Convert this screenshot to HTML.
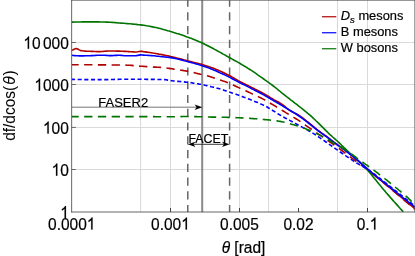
<!DOCTYPE html>
<html><head><meta charset="utf-8"><title>plot</title>
<style>html,body{margin:0;padding:0;background:#fff;}body{width:415px;height:256px;overflow:hidden;-webkit-font-smoothing:antialiased;font-family:"Liberation Sans",sans-serif;}</style>
</head><body>
<svg width="415" height="256" viewBox="0 0 415 256" style="display:block;will-change:transform;font-family:'Liberation Sans',sans-serif">
<rect width="415" height="256" fill="#fff"/>
<style>text{stroke:#000;stroke-width:0.2px;stroke-linejoin:round}.o{stroke:#000;stroke-width:24px;stroke-linejoin:round}.r{stroke-width:0.05px}</style>
<line x1="140.60" y1="0.18" x2="140.60" y2="212.0" stroke="#dadada" stroke-width="1.05"/>
<line x1="170.50" y1="0.18" x2="170.50" y2="212.0" stroke="#dadada" stroke-width="1.05"/>
<line x1="239.50" y1="0.18" x2="239.50" y2="212.0" stroke="#dadada" stroke-width="1.05"/>
<line x1="268.50" y1="0.18" x2="268.50" y2="212.0" stroke="#dadada" stroke-width="1.05"/>
<line x1="337.50" y1="0.18" x2="337.50" y2="212.0" stroke="#dadada" stroke-width="1.05"/>
<line x1="367.50" y1="0.18" x2="367.50" y2="212.0" stroke="#dadada" stroke-width="1.05"/>
<line x1="71.7" y1="169.50" x2="414.9" y2="169.50" stroke="#dadada" stroke-width="1.05"/>
<line x1="71.7" y1="127.40" x2="414.9" y2="127.40" stroke="#dadada" stroke-width="1.05"/>
<line x1="71.7" y1="84.50" x2="414.9" y2="84.50" stroke="#dadada" stroke-width="1.05"/>
<line x1="71.7" y1="42.50" x2="414.9" y2="42.50" stroke="#dadada" stroke-width="1.05"/>
<clipPath id="c"><rect x="71.7" y="0.18" width="343.2" height="211.82"/></clipPath>
<line x1="187.78" y1="0.18" x2="187.78" y2="212.0" stroke="#666666" stroke-width="1.5" stroke-dasharray="8.2,5.56" stroke-dashoffset="1.6"/>
<line x1="202.20" y1="0.18" x2="202.20" y2="212.0" stroke="#8a8a8a" stroke-width="2.0"/>
<line x1="229.61" y1="0.18" x2="229.61" y2="212.0" stroke="#666666" stroke-width="1.5" stroke-dasharray="8.2,5.56" stroke-dashoffset="1.6"/>
<line x1="71.7" y1="107.2" x2="197" y2="107.2" stroke="#666" stroke-width="0.9"/>
<path d="M202.4,107.2 L194.6,104.5 L196.6,107.2 L194.6,109.9 Z" fill="#000"/>
<text x="98.3" y="107.1" font-size="13" fill="#000">FASER2</text>
<line x1="190.8" y1="144.3" x2="226.6" y2="144.3" stroke="#222" stroke-width="0.9"/>
<path d="M187.8,144.3 l7.6,-2.65 l-2,2.65 l2,2.65 Z" fill="#000"/>
<path d="M229.6,144.3 l-7.6,-2.65 l2,2.65 l-2,2.65 Z" fill="#000"/>
<text x="208.4" y="143.1" font-size="12.4" fill="#000" text-anchor="middle">FACET</text>
<g clip-path="url(#c)" fill="none" stroke-linejoin="round">
<path d="M71.7,50.2 L73.2,49.7 L74.7,49.1 L76.2,48.5 L77.7,49.0 L79.2,49.9 L80.7,50.6 L82.2,50.8 L83.7,51.0 L85.2,51.1 L86.7,51.2 L88.2,51.2 L89.7,51.3 L91.2,51.4 L92.7,51.4 L94.2,51.5 L95.7,51.5 L97.2,51.6 L98.7,51.6 L100.2,51.6 L101.7,51.5 L103.2,51.4 L104.7,51.2 L106.2,51.1 L107.7,51.0 L109.2,51.0 L110.7,51.0 L112.2,51.0 L113.7,51.0 L115.2,51.0 L116.7,51.1 L118.2,51.1 L119.7,51.1 L121.2,51.2 L122.7,51.3 L124.2,51.4 L125.7,51.4 L127.2,51.5 L128.7,51.6 L130.2,51.7 L131.7,51.8 L133.2,51.9 L134.7,52.0 L136.2,52.0 L137.7,51.8 L139.2,51.5 L140.7,51.3 L142.2,51.4 L143.7,51.7 L145.2,51.9 L146.7,52.1 L148.2,52.3 L149.7,52.5 L151.2,52.7 L152.7,53.0 L154.2,53.2 L155.7,53.5 L157.2,53.8 L158.7,54.1 L160.2,54.3 L161.7,54.6 L163.2,54.9 L164.7,55.2 L166.2,55.5 L167.7,55.8 L169.2,56.1 L170.7,56.5 L172.2,56.8 L173.7,57.2 L175.2,57.6 L176.7,58.0 L178.2,58.3 L179.7,58.7 L181.2,59.1 L182.7,59.5 L184.2,59.9 L185.7,60.3 L187.2,60.7 L188.7,61.1 L190.2,61.4 L191.7,61.8 L193.2,62.2 L194.7,62.5 L196.2,62.9 L197.7,63.3 L199.2,63.7 L200.7,64.1 L202.2,64.5 L203.7,65.0 L205.2,65.4 L206.7,65.9 L208.2,66.4 L209.7,66.9 L211.2,67.4 L212.7,68.0 L214.2,68.6 L215.7,69.2 L217.2,69.8 L218.7,70.5 L220.2,71.1 L221.7,71.8 L223.2,72.5 L224.7,73.2 L226.2,74.0 L227.7,74.7 L229.2,75.5 L230.7,76.3 L232.2,77.2 L233.7,78.0 L235.2,78.9 L236.7,79.8 L238.2,80.7 L239.7,81.5 L241.2,82.2 L242.7,83.0 L244.2,83.7 L245.7,84.5 L247.2,85.2 L248.7,85.9 L250.2,86.7 L251.7,87.5 L253.2,88.2 L254.7,89.0 L256.2,89.7 L257.7,90.5 L259.2,91.2 L260.7,92.0 L262.2,92.8 L263.7,93.6 L265.2,94.5 L266.7,95.4 L268.2,96.3 L269.7,97.2 L271.2,98.1 L272.7,99.0 L274.2,99.9 L275.7,100.7 L277.2,101.5 L278.7,102.3 L280.2,103.2 L281.7,104.1 L283.2,105.1 L284.7,106.4 L286.2,107.7 L287.7,109.0 L289.2,110.1 L290.7,111.0 L292.2,111.8 L293.7,112.5 L295.2,113.3 L296.7,114.0 L298.2,114.9 L299.7,115.8 L301.2,116.9 L302.7,118.0 L304.2,119.1 L305.7,120.3 L307.2,121.5 L308.7,122.7 L310.2,123.9 L311.7,125.1 L313.2,126.4 L314.7,127.6 L316.2,128.9 L317.7,130.1 L319.2,131.2 L320.7,132.3 L322.2,133.4 L323.7,134.4 L325.2,135.5 L326.7,136.5 L328.2,137.7 L329.7,138.8 L331.2,140.0 L332.7,141.2 L334.2,142.4 L335.7,143.5 L337.2,144.5 L338.7,145.6 L340.2,146.7 L341.7,147.8 L343.2,148.8 L344.7,149.9 L346.2,151.1 L347.7,152.2 L349.2,153.4 L350.7,154.6 L352.2,155.8 L353.7,157.0 L355.2,158.3 L356.7,159.5 L358.2,160.8 L359.7,162.1 L361.2,163.4 L362.7,164.8 L364.2,166.2 L365.7,167.6 L367.2,169.0 L368.7,170.3 L370.2,171.6 L371.7,172.9 L373.2,174.2 L374.7,175.4 L376.2,176.6 L377.7,177.9 L379.2,179.1 L380.7,180.3 L382.2,181.5 L383.7,182.7 L385.2,184.0 L386.7,185.2 L388.2,186.4 L389.7,187.6 L391.2,188.8 L392.7,190.1 L394.2,191.3 L395.7,192.6 L397.2,193.8 L398.7,195.1 L400.2,196.3 L401.7,197.6 L403.2,198.9 L404.7,200.1 L406.2,201.4 L407.7,202.6 L409.2,203.9 L410.7,205.2 L412.2,206.4 L413.7,207.7 L415.0,208.8" stroke="#b00000" stroke-width="1.6"/>
<path d="M71.7,64.7 L73.2,64.7 L74.7,64.7 L76.2,64.7 L77.7,64.7 L79.2,64.7 L80.7,64.7 L82.2,64.7 L83.7,64.8 L85.2,64.8 L86.7,64.8 L88.2,64.8 L89.7,64.8 L91.2,64.8 L92.7,64.8 L94.2,64.8 L95.7,64.8 L97.2,64.8 L98.7,64.9 L100.2,64.9 L101.7,64.9 L103.2,64.9 L104.7,64.9 L106.2,64.9 L107.7,64.9 L109.2,64.9 L110.7,65.0 L112.2,65.0 L113.7,65.0 L115.2,65.0 L116.7,65.0 L118.2,65.0 L119.7,65.0 L121.2,65.1 L122.7,65.1 L124.2,65.1 L125.7,65.1 L127.2,65.2 L128.7,65.2 L130.2,65.3 L131.7,65.4 L133.2,65.6 L134.7,65.7 L136.2,65.9 L137.7,66.0 L139.2,66.1 L140.7,66.2 L142.2,66.3 L143.7,66.4 L145.2,66.5 L146.7,66.6 L148.2,66.7 L149.7,66.8 L151.2,66.9 L152.7,67.0 L154.2,67.1 L155.7,67.1 L157.2,67.2 L158.7,67.3 L160.2,67.4 L161.7,67.6 L163.2,67.7 L164.7,67.9 L166.2,68.1 L167.7,68.2 L169.2,68.4 L170.7,68.6 L172.2,68.8 L173.7,69.1 L175.2,69.3 L176.7,69.5 L178.2,69.8 L179.7,70.0 L181.2,70.2 L182.7,70.4 L184.2,70.7 L185.7,70.9 L187.2,71.2 L188.7,71.5 L190.2,71.8 L191.7,72.1 L193.2,72.5 L194.7,72.8 L196.2,73.2 L197.7,73.6 L199.2,73.9 L200.7,74.3 L202.2,74.6 L203.7,74.9 L205.2,75.3 L206.7,75.6 L208.2,76.0 L209.7,76.4 L211.2,76.9 L212.7,77.4 L214.2,77.9 L215.7,78.4 L217.2,79.0 L218.7,79.5 L220.2,80.0 L221.7,80.5 L223.2,81.1 L224.7,81.6 L226.2,82.1 L227.7,82.7 L229.2,83.3 L230.7,83.9 L232.2,84.6 L233.7,85.3 L235.2,86.0 L236.7,86.7 L238.2,87.4 L239.7,88.1 L241.2,88.8 L242.7,89.5 L244.2,90.2 L245.7,90.8 L247.2,91.5 L248.7,92.2 L250.2,92.9 L251.7,93.6 L253.2,94.3 L254.7,95.0 L256.2,95.7 L257.7,96.4 L259.2,97.1 L260.7,97.8 L262.2,98.6 L263.7,99.4 L265.2,100.2 L266.7,101.0 L268.2,101.9 L269.7,102.8 L271.2,103.7 L272.7,104.6 L274.2,105.5 L275.7,106.4 L277.2,107.3 L278.7,108.2 L280.2,109.2 L281.7,110.1 L283.2,111.0 L284.7,111.9 L286.2,112.9 L287.7,113.8 L289.2,114.6 L290.7,115.5 L292.2,116.4 L293.7,117.4 L295.2,118.3 L296.7,119.2 L298.2,120.2 L299.7,121.2 L301.2,122.2 L302.7,123.2 L304.2,124.2 L305.7,125.3 L307.2,126.3 L308.7,127.4 L310.2,128.4 L311.7,129.5 L313.2,130.5 L314.7,131.5 L316.2,132.5 L317.7,133.6 L319.2,134.6 L320.7,135.6 L322.2,136.7 L323.7,137.7 L325.2,138.7 L326.7,139.8 L328.2,140.8 L329.7,141.9 L331.2,142.9 L332.7,143.9 L334.2,145.0 L335.7,146.1 L337.2,147.1 L338.7,148.2 L340.2,149.4 L341.7,150.5 L343.2,151.6 L344.7,152.7 L346.2,153.9 L347.7,155.0 L349.2,156.2 L350.7,157.3 L352.2,158.4 L353.7,159.5 L355.2,160.6 L356.7,161.7 L358.2,162.8 L359.7,163.9 L361.2,165.0 L362.7,166.1 L364.2,167.2 L365.7,168.3 L367.2,169.5 L368.7,170.6 L370.2,171.8 L371.7,173.0 L373.2,174.2 L374.7,175.4 L376.2,176.7 L377.7,177.9 L379.2,179.1 L380.7,180.4 L382.2,181.7 L383.7,182.9 L385.2,184.2 L386.7,185.4 L388.2,186.7 L389.7,188.0 L391.2,189.2 L392.7,190.5 L394.2,191.7 L395.7,193.0 L397.2,194.2 L398.7,195.5 L400.2,196.8 L401.7,198.0 L403.2,199.3 L404.7,200.6 L406.2,201.8 L407.7,203.1 L409.2,204.4 L410.7,205.6 L412.2,206.9 L413.7,208.2 L415.0,209.3" stroke="#b00000" stroke-width="1.6" stroke-dasharray="8.3,5.45" stroke-dashoffset="1.3"/>
<path d="M71.7,22.1 L73.2,22.1 L74.7,22.0 L76.2,22.0 L77.7,22.0 L79.2,22.0 L80.7,22.0 L82.2,21.9 L83.7,21.9 L85.2,21.9 L86.7,21.9 L88.2,21.9 L89.7,21.9 L91.2,21.9 L92.7,21.9 L94.2,21.9 L95.7,21.9 L97.2,21.9 L98.7,21.9 L100.2,22.0 L101.7,22.0 L103.2,22.0 L104.7,22.0 L106.2,22.1 L107.7,22.1 L109.2,22.2 L110.7,22.3 L112.2,22.4 L113.7,22.5 L115.2,22.6 L116.7,22.7 L118.2,22.9 L119.7,23.0 L121.2,23.1 L122.7,23.2 L124.2,23.3 L125.7,23.5 L127.2,23.6 L128.7,23.7 L130.2,23.8 L131.7,24.0 L133.2,24.1 L134.7,24.3 L136.2,24.4 L137.7,24.6 L139.2,24.7 L140.7,24.9 L142.2,25.1 L143.7,25.3 L145.2,25.5 L146.7,25.8 L148.2,26.0 L149.7,26.3 L151.2,26.6 L152.7,26.9 L154.2,27.2 L155.7,27.5 L157.2,27.8 L158.7,28.2 L160.2,28.6 L161.7,29.0 L163.2,29.4 L164.7,29.8 L166.2,30.2 L167.7,30.7 L169.2,31.1 L170.7,31.6 L172.2,32.0 L173.7,32.5 L175.2,32.9 L176.7,33.4 L178.2,33.8 L179.7,34.3 L181.2,34.8 L182.7,35.3 L184.2,35.8 L185.7,36.4 L187.2,37.0 L188.7,37.5 L190.2,38.1 L191.7,38.6 L193.2,39.2 L194.7,39.8 L196.2,40.4 L197.7,41.0 L199.2,41.7 L200.7,42.3 L202.2,43.0 L203.7,43.7 L205.2,44.5 L206.7,45.2 L208.2,46.0 L209.7,46.8 L211.2,47.5 L212.7,48.3 L214.2,49.1 L215.7,49.9 L217.2,50.8 L218.7,51.6 L220.2,52.4 L221.7,53.2 L223.2,54.1 L224.7,54.9 L226.2,55.8 L227.7,56.6 L229.2,57.5 L230.7,58.3 L232.2,59.1 L233.7,60.0 L235.2,60.8 L236.7,61.6 L238.2,62.4 L239.7,63.3 L241.2,64.2 L242.7,65.1 L244.2,66.0 L245.7,66.9 L247.2,67.8 L248.7,68.8 L250.2,69.7 L251.7,70.7 L253.2,71.7 L254.7,72.7 L256.2,73.7 L257.7,74.8 L259.2,75.8 L260.7,76.8 L262.2,77.9 L263.7,79.0 L265.2,80.1 L266.7,81.1 L268.2,82.2 L269.7,83.3 L271.2,84.4 L272.7,85.5 L274.2,86.6 L275.7,87.8 L277.2,89.0 L278.7,90.3 L280.2,91.5 L281.7,92.8 L283.2,94.0 L284.7,95.1 L286.2,96.3 L287.7,97.5 L289.2,98.6 L290.7,99.8 L292.2,100.9 L293.7,102.1 L295.2,103.3 L296.7,104.4 L298.2,105.6 L299.7,106.8 L301.2,108.0 L302.7,109.2 L304.2,110.4 L305.7,111.6 L307.2,112.8 L308.7,114.1 L310.2,115.4 L311.7,116.7 L313.2,118.1 L314.7,119.5 L316.2,121.0 L317.7,122.4 L319.2,123.9 L320.7,125.4 L322.2,126.9 L323.7,128.4 L325.2,129.9 L326.7,131.4 L328.2,132.9 L329.7,134.3 L331.2,135.6 L332.7,137.0 L334.2,138.3 L335.7,139.7 L337.2,141.0 L338.7,142.4 L340.2,143.8 L341.7,145.3 L343.2,146.7 L344.7,148.2 L346.2,149.6 L347.7,151.0 L349.2,152.5 L350.7,153.8 L352.2,155.2 L353.7,156.5 L355.2,157.9 L356.7,159.2 L358.2,160.6 L359.7,162.0 L361.2,163.5 L362.7,165.0 L364.2,166.5 L365.7,168.2 L367.2,169.8 L368.7,171.5 L370.2,173.3 L371.7,175.0 L373.2,176.9 L374.7,178.7 L376.2,180.5 L377.7,182.4 L379.2,184.3 L380.7,186.1 L382.2,187.9 L383.7,189.7 L385.2,191.4 L386.7,193.2 L388.2,194.9 L389.7,196.6 L391.2,198.4 L392.7,200.1 L394.2,201.8 L395.7,203.4 L397.2,205.1 L398.7,206.8 L400.2,208.5 L401.7,210.1 L403.2,211.7 L403.3,211.8" stroke="#007400" stroke-width="1.6"/>
<path d="M71.7,55.3 L73.2,55.5 L74.7,55.6 L76.2,55.7 L77.7,55.8 L79.2,55.9 L80.7,55.9 L82.2,55.9 L83.7,55.9 L85.2,55.8 L86.7,55.8 L88.2,55.7 L89.7,55.7 L91.2,55.6 L92.7,55.6 L94.2,55.5 L95.7,55.4 L97.2,55.3 L98.7,55.3 L100.2,55.2 L101.7,55.2 L103.2,55.2 L104.7,55.3 L106.2,55.4 L107.7,55.5 L109.2,55.6 L110.7,55.6 L112.2,55.6 L113.7,55.5 L115.2,55.4 L116.7,55.4 L118.2,55.3 L119.7,55.3 L121.2,55.4 L122.7,55.5 L124.2,55.7 L125.7,55.8 L127.2,55.8 L128.7,55.8 L130.2,55.8 L131.7,55.7 L133.2,55.7 L134.7,55.7 L136.2,55.6 L137.7,55.4 L139.2,55.1 L140.7,54.9 L142.2,55.0 L143.7,55.1 L145.2,55.2 L146.7,55.3 L148.2,55.4 L149.7,55.5 L151.2,55.6 L152.7,55.7 L154.2,55.8 L155.7,56.0 L157.2,56.2 L158.7,56.3 L160.2,56.5 L161.7,56.7 L163.2,56.8 L164.7,57.0 L166.2,57.1 L167.7,57.3 L169.2,57.4 L170.7,57.6 L172.2,57.9 L173.7,58.2 L175.2,58.5 L176.7,58.8 L178.2,59.1 L179.7,59.5 L181.2,59.9 L182.7,60.2 L184.2,60.7 L185.7,61.1 L187.2,61.5 L188.7,61.9 L190.2,62.3 L191.7,62.7 L193.2,63.1 L194.7,63.5 L196.2,63.9 L197.7,64.3 L199.2,64.8 L200.7,65.2 L202.2,65.7 L203.7,66.2 L205.2,66.7 L206.7,67.2 L208.2,67.8 L209.7,68.3 L211.2,68.9 L212.7,69.5 L214.2,70.2 L215.7,70.8 L217.2,71.5 L218.7,72.2 L220.2,72.9 L221.7,73.5 L223.2,74.2 L224.7,74.9 L226.2,75.6 L227.7,76.4 L229.2,77.1 L230.7,77.9 L232.2,78.7 L233.7,79.5 L235.2,80.3 L236.7,81.1 L238.2,81.9 L239.7,82.7 L241.2,83.4 L242.7,84.2 L244.2,84.9 L245.7,85.6 L247.2,86.4 L248.7,87.1 L250.2,87.9 L251.7,88.7 L253.2,89.4 L254.7,90.2 L256.2,91.0 L257.7,91.7 L259.2,92.5 L260.7,93.3 L262.2,94.1 L263.7,94.9 L265.2,95.8 L266.7,96.6 L268.2,97.5 L269.7,98.3 L271.2,99.2 L272.7,100.1 L274.2,101.0 L275.7,101.9 L277.2,102.7 L278.7,103.6 L280.2,104.5 L281.7,105.4 L283.2,106.3 L284.7,107.2 L286.2,108.1 L287.7,109.0 L289.2,109.9 L290.7,110.8 L292.2,111.7 L293.7,112.6 L295.2,113.5 L296.7,114.5 L298.2,115.5 L299.7,116.5 L301.2,117.6 L302.7,118.7 L304.2,119.8 L305.7,120.9 L307.2,122.1 L308.7,123.3 L310.2,124.5 L311.7,125.6 L313.2,126.8 L314.7,128.1 L316.2,129.3 L317.7,130.5 L319.2,131.6 L320.7,132.7 L322.2,133.8 L323.7,134.8 L325.2,135.9 L326.7,136.9 L328.2,138.0 L329.7,139.2 L331.2,140.4 L332.7,141.5 L334.2,142.6 L335.7,143.7 L337.2,144.8 L338.7,145.9 L340.2,146.9 L341.7,148.0 L343.2,149.1 L344.7,150.2 L346.2,151.3 L347.7,152.4 L349.2,153.6 L350.7,154.8 L352.2,156.0 L353.7,157.2 L355.2,158.4 L356.7,159.7 L358.2,160.9 L359.7,162.2 L361.2,163.5 L362.7,164.8 L364.2,166.1 L365.7,167.4 L367.2,168.7 L368.7,170.0 L370.2,171.2 L371.7,172.5 L373.2,173.7 L374.7,174.9 L376.2,176.2 L377.7,177.4 L379.2,178.6 L380.7,179.8 L382.2,181.0 L383.7,182.2 L385.2,183.4 L386.7,184.6 L388.2,185.8 L389.7,187.0 L391.2,188.2 L392.7,189.4 L394.2,190.6 L395.7,191.8 L397.2,193.0 L398.7,194.2 L400.2,195.4 L401.7,196.6 L403.2,197.8 L404.7,199.0 L406.2,200.2 L407.7,201.4 L409.2,202.6 L410.7,203.8 L412.2,205.0 L413.7,206.2 L415.0,207.2" stroke="#0000ff" stroke-width="1.6"/>
<path d="M71.7,79.4 L73.2,79.4 L74.7,79.5 L76.2,79.5 L77.7,79.5 L79.2,79.5 L80.7,79.5 L82.2,79.5 L83.7,79.6 L85.2,79.6 L86.7,79.6 L88.2,79.6 L89.7,79.6 L91.2,79.6 L92.7,79.6 L94.2,79.6 L95.7,79.6 L97.2,79.6 L98.7,79.6 L100.2,79.6 L101.7,79.6 L103.2,79.6 L104.7,79.6 L106.2,79.6 L107.7,79.6 L109.2,79.6 L110.7,79.5 L112.2,79.5 L113.7,79.5 L115.2,79.4 L116.7,79.4 L118.2,79.4 L119.7,79.3 L121.2,79.3 L122.7,79.3 L124.2,79.2 L125.7,79.2 L127.2,79.2 L128.7,79.2 L130.2,79.2 L131.7,79.2 L133.2,79.2 L134.7,79.2 L136.2,79.2 L137.7,79.3 L139.2,79.3 L140.7,79.3 L142.2,79.3 L143.7,79.3 L145.2,79.3 L146.7,79.4 L148.2,79.4 L149.7,79.4 L151.2,79.4 L152.7,79.4 L154.2,79.4 L155.7,79.5 L157.2,79.5 L158.7,79.5 L160.2,79.5 L161.7,79.5 L163.2,79.6 L164.7,79.6 L166.2,79.8 L167.7,80.1 L169.2,80.4 L170.7,80.6 L172.2,80.8 L173.7,81.0 L175.2,81.1 L176.7,81.3 L178.2,81.4 L179.7,81.5 L181.2,81.6 L182.7,81.8 L184.2,81.9 L185.7,82.1 L187.2,82.2 L188.7,82.4 L190.2,82.6 L191.7,82.8 L193.2,83.1 L194.7,83.3 L196.2,83.5 L197.7,83.8 L199.2,84.1 L200.7,84.3 L202.2,84.6 L203.7,84.9 L205.2,85.3 L206.7,85.6 L208.2,86.0 L209.7,86.3 L211.2,86.7 L212.7,87.0 L214.2,87.4 L215.7,87.8 L217.2,88.2 L218.7,88.6 L220.2,89.0 L221.7,89.5 L223.2,89.9 L224.7,90.4 L226.2,90.9 L227.7,91.4 L229.2,91.9 L230.7,92.4 L232.2,93.0 L233.7,93.5 L235.2,94.0 L236.7,94.6 L238.2,95.1 L239.7,95.7 L241.2,96.2 L242.7,96.7 L244.2,97.3 L245.7,97.8 L247.2,98.4 L248.7,99.0 L250.2,99.6 L251.7,100.2 L253.2,100.8 L254.7,101.4 L256.2,102.0 L257.7,102.6 L259.2,103.3 L260.7,103.9 L262.2,104.6 L263.7,105.3 L265.2,106.0 L266.7,106.8 L268.2,107.7 L269.7,108.6 L271.2,109.5 L272.7,110.5 L274.2,111.4 L275.7,112.4 L277.2,113.4 L278.7,114.3 L280.2,115.1 L281.7,116.0 L283.2,116.8 L284.7,117.7 L286.2,118.5 L287.7,119.3 L289.2,120.1 L290.7,120.9 L292.2,121.7 L293.7,122.6 L295.2,123.4 L296.7,124.2 L298.2,125.0 L299.7,125.8 L301.2,126.6 L302.7,127.4 L304.2,128.2 L305.7,129.0 L307.2,129.9 L308.7,130.7 L310.2,131.6 L311.7,132.5 L313.2,133.4 L314.7,134.4 L316.2,135.3 L317.7,136.3 L319.2,137.3 L320.7,138.3 L322.2,139.4 L323.7,140.4 L325.2,141.5 L326.7,142.5 L328.2,143.6 L329.7,144.7 L331.2,145.7 L332.7,146.8 L334.2,147.8 L335.7,148.9 L337.2,149.9 L338.7,150.9 L340.2,152.0 L341.7,153.0 L343.2,154.0 L344.7,155.0 L346.2,156.1 L347.7,157.1 L349.2,158.1 L350.7,159.1 L352.2,160.2 L353.7,161.2 L355.2,162.1 L356.7,163.0 L358.2,163.9 L359.7,164.8 L361.2,165.6 L362.7,166.4 L364.2,167.3 L365.7,168.1 L367.2,169.1 L368.7,170.0 L370.2,171.1 L371.7,172.1 L373.2,173.3 L374.7,174.4 L376.2,175.6 L377.7,176.7 L379.2,177.9 L380.7,179.0 L382.2,180.2 L383.7,181.4 L385.2,182.6 L386.7,183.7 L388.2,184.9 L389.7,186.1 L391.2,187.3 L392.7,188.5 L394.2,189.7 L395.7,190.9 L397.2,192.1 L398.7,193.2 L400.2,194.4 L401.7,195.6 L403.2,196.8 L404.7,198.0 L406.2,199.2 L407.7,200.3 L409.2,201.5 L410.7,202.7 L412.2,203.9 L413.7,205.1 L415.0,206.1" stroke="#0000ff" stroke-width="1.6" stroke-dasharray="4.1,2.55" stroke-dashoffset="0.7"/>
<path d="M71.7,116.6 L73.2,116.6 L74.7,116.6 L76.2,116.6 L77.7,116.6 L79.2,116.6 L80.7,116.6 L82.2,116.6 L83.7,116.6 L85.2,116.6 L86.7,116.6 L88.2,116.6 L89.7,116.6 L91.2,116.6 L92.7,116.6 L94.2,116.6 L95.7,116.6 L97.2,116.6 L98.7,116.6 L100.2,116.6 L101.7,116.6 L103.2,116.6 L104.7,116.6 L106.2,116.6 L107.7,116.6 L109.2,116.6 L110.7,116.6 L112.2,116.6 L113.7,116.6 L115.2,116.6 L116.7,116.6 L118.2,116.6 L119.7,116.6 L121.2,116.6 L122.7,116.6 L124.2,116.6 L125.7,116.6 L127.2,116.6 L128.7,116.6 L130.2,116.6 L131.7,116.6 L133.2,116.6 L134.7,116.6 L136.2,116.6 L137.7,116.6 L139.2,116.6 L140.7,116.6 L142.2,116.6 L143.7,116.6 L145.2,116.6 L146.7,116.6 L148.2,116.6 L149.7,116.6 L151.2,116.6 L152.7,116.6 L154.2,116.6 L155.7,116.7 L157.2,116.7 L158.7,116.7 L160.2,116.7 L161.7,116.7 L163.2,116.7 L164.7,116.7 L166.2,116.7 L167.7,116.7 L169.2,116.7 L170.7,116.7 L172.2,116.7 L173.7,116.7 L175.2,116.7 L176.7,116.6 L178.2,116.6 L179.7,116.6 L181.2,116.6 L182.7,116.5 L184.2,116.5 L185.7,116.5 L187.2,116.5 L188.7,116.5 L190.2,116.5 L191.7,116.5 L193.2,116.6 L194.7,116.6 L196.2,116.6 L197.7,116.7 L199.2,116.7 L200.7,116.8 L202.2,116.8 L203.7,116.9 L205.2,116.9 L206.7,117.0 L208.2,117.0 L209.7,117.0 L211.2,117.1 L212.7,117.1 L214.2,117.1 L215.7,117.1 L217.2,117.2 L218.7,117.2 L220.2,117.2 L221.7,117.2 L223.2,117.3 L224.7,117.3 L226.2,117.3 L227.7,117.4 L229.2,117.4 L230.7,117.4 L232.2,117.5 L233.7,117.5 L235.2,117.6 L236.7,117.7 L238.2,117.7 L239.7,117.8 L241.2,117.9 L242.7,118.0 L244.2,118.1 L245.7,118.1 L247.2,118.2 L248.7,118.3 L250.2,118.4 L251.7,118.5 L253.2,118.6 L254.7,118.7 L256.2,118.8 L257.7,118.9 L259.2,119.1 L260.7,119.2 L262.2,119.3 L263.7,119.5 L265.2,119.6 L266.7,119.8 L268.2,119.9 L269.7,120.0 L271.2,120.2 L272.7,120.4 L274.2,120.5 L275.7,120.7 L277.2,120.9 L278.7,121.2 L280.2,121.4 L281.7,121.7 L283.2,122.0 L284.7,122.3 L286.2,122.7 L287.7,123.1 L289.2,123.5 L290.7,124.0 L292.2,124.4 L293.7,124.8 L295.2,125.3 L296.7,125.7 L298.2,126.2 L299.7,126.7 L301.2,127.2 L302.7,127.7 L304.2,128.2 L305.7,128.8 L307.2,129.4 L308.7,130.0 L310.2,130.6 L311.7,131.3 L313.2,131.9 L314.7,132.6 L316.2,133.4 L317.7,134.1 L319.2,134.9 L320.7,135.6 L322.2,136.4 L323.7,137.2 L325.2,138.1 L326.7,139.0 L328.2,139.8 L329.7,140.7 L331.2,141.6 L332.7,142.5 L334.2,143.3 L335.7,144.2 L337.2,145.1 L338.7,146.0 L340.2,146.8 L341.7,147.7 L343.2,148.6 L344.7,149.5 L346.2,150.5 L347.7,151.4 L349.2,152.4 L350.7,153.5 L352.2,154.5 L353.7,155.6 L355.2,156.7 L356.7,157.9 L358.2,159.0 L359.7,160.1 L361.2,161.2 L362.7,162.2 L364.2,163.3 L365.7,164.4 L367.2,165.4 L368.7,166.5 L370.2,167.5 L371.7,168.6 L373.2,169.7 L374.7,170.8 L376.2,172.0 L377.7,173.1 L379.2,174.3 L380.7,175.4 L382.2,176.6 L383.7,177.8 L385.2,179.0 L386.7,180.2 L388.2,181.4 L389.7,182.6 L391.2,183.8 L392.7,185.0 L394.2,186.2 L395.7,187.5 L397.2,188.7 L398.7,190.0 L400.2,191.2 L401.7,192.4 L403.2,193.7 L404.7,195.0 L406.2,196.3 L407.7,197.7 L409.2,199.1 L410.7,200.6 L412.2,202.1 L413.7,203.6 L415.0,205.0" stroke="#007400" stroke-width="1.6" stroke-dasharray="8.3,5.45" stroke-dashoffset="1.3"/>
</g>
<g stroke="#404040" stroke-width="0.8" fill="none">
<line x1="71.65" y1="0" x2="71.65" y2="212.4"/>
<line x1="71.25" y1="212.0" x2="415" y2="212.0"/>
<line x1="71.25" y1="0.2" x2="415" y2="0.2"/>
<line x1="414.9" y1="0" x2="414.9" y2="212.4"/>
</g>
<g stroke-width="0.9" fill="none">
<line x1="170.5" y1="212.0" x2="170.5" y2="208.0" stroke="#333"/>
<line x1="239.5" y1="212.0" x2="239.5" y2="208.0" stroke="#333"/>
<line x1="298.5" y1="212.0" x2="298.5" y2="208.0" stroke="#333"/>
<line x1="367.5" y1="212.0" x2="367.5" y2="208.0" stroke="#333"/>
<line x1="71.65" y1="169.5" x2="75.9" y2="169.5" stroke="#5a5a5a"/>
<line x1="71.65" y1="127.4" x2="75.9" y2="127.4" stroke="#5a5a5a"/>
<line x1="71.65" y1="84.5" x2="75.9" y2="84.5" stroke="#5a5a5a"/>
<line x1="71.65" y1="42.5" x2="75.9" y2="42.5" stroke="#5a5a5a"/>
</g>
<g transform="translate(71.70,229.60) scale(0.917,1)" fill="#000"><path class="o" transform="translate(16.44,0) scale(0.00825,-0.00825)" d="M763 0H583V1147Q518 1085 412.5 1023Q307 961 223 930V1104Q374 1175 487 1276Q600 1377 647 1472H763Z"/><text font-size="16.9" x="-25.84 -16.44 -11.75 -2.35 7.05" y="0">0.000</text></g>
<g transform="translate(170.40,229.60) scale(0.917,1)" fill="#000"><path class="o" transform="translate(11.75,0) scale(0.00825,-0.00825)" d="M763 0H583V1147Q518 1085 412.5 1023Q307 961 223 930V1104Q374 1175 487 1276Q600 1377 647 1472H763Z"/><text font-size="16.9" x="-21.14 -11.75 -7.05 2.35" y="0">0.00</text></g>
<g transform="translate(239.40,229.60) scale(0.917,1)" fill="#000"><text font-size="16.9" x="-21.14 -11.75 -7.05 2.35 11.75" y="0">0.005</text></g>
<g transform="translate(298.50,229.60) scale(0.917,1)" fill="#000"><text font-size="16.9" x="-16.44 -7.05 -2.35 7.05" y="0">0.02</text></g>
<g transform="translate(367.50,229.60) scale(0.917,1)" fill="#000"><path class="o" transform="translate(2.35,0) scale(0.00825,-0.00825)" d="M763 0H583V1147Q518 1085 412.5 1023Q307 961 223 930V1104Q374 1175 487 1276Q600 1377 647 1472H763Z"/><text font-size="16.9" x="-11.75 -2.35" y="0">0.</text></g>
<g transform="translate(68.80,218.20) scale(0.917,1)" fill="#000"><path class="o" transform="translate(-9.40,0) scale(0.00825,-0.00825)" d="M763 0H583V1147Q518 1085 412.5 1023Q307 961 223 930V1104Q374 1175 487 1276Q600 1377 647 1472H763Z"/></g>
<g transform="translate(68.80,175.70) scale(0.917,1)" fill="#000"><path class="o" transform="translate(-18.79,0) scale(0.00825,-0.00825)" d="M763 0H583V1147Q518 1085 412.5 1023Q307 961 223 930V1104Q374 1175 487 1276Q600 1377 647 1472H763Z"/><text font-size="16.9" x="-9.40" y="0">0</text></g>
<g transform="translate(68.80,133.60) scale(0.917,1)" fill="#000"><path class="o" transform="translate(-28.19,0) scale(0.00825,-0.00825)" d="M763 0H583V1147Q518 1085 412.5 1023Q307 961 223 930V1104Q374 1175 487 1276Q600 1377 647 1472H763Z"/><text font-size="16.9" x="-18.79 -9.40" y="0">00</text></g>
<g transform="translate(68.80,90.70) scale(0.917,1)" fill="#000"><path class="o" transform="translate(-37.59,0) scale(0.00825,-0.00825)" d="M763 0H583V1147Q518 1085 412.5 1023Q307 961 223 930V1104Q374 1175 487 1276Q600 1377 647 1472H763Z"/><text font-size="16.9" x="-28.19 -18.79 -9.40" y="0">000</text></g>
<g transform="translate(68.80,48.70) scale(0.917,1)" fill="#000"><path class="o" transform="translate(-49.60,0) scale(0.00825,-0.00825)" d="M763 0H583V1147Q518 1085 412.5 1023Q307 961 223 930V1104Q374 1175 487 1276Q600 1377 647 1472H763Z"/><text font-size="16.9" x="-40.21 -28.19 -18.79 -9.40" y="0">0000</text></g>
<text transform="translate(243.50,252.60) scale(0.917,1)" font-size="16.9" fill="#000" text-anchor="middle"><tspan font-style="italic">θ</tspan> [rad]</text>
<text class="r" transform="translate(15.20,105.60) rotate(-90) scale(0.917,1)" font-size="16.9" fill="#000" text-anchor="middle">df/dcos(<tspan font-style="italic" dx="1">θ</tspan><tspan dx="1">)</tspan></text>
<line x1="322" y1="16.75" x2="336.3" y2="16.75" stroke="#b00000" stroke-width="1.2"/>
<text x="340.8" y="20.35" font-size="12.85" fill="#000"><tspan font-style="italic">D</tspan><tspan font-style="italic" font-size="9.5" dy="2.6">s</tspan><tspan dy="-2.6"> mesons</tspan></text>
<line x1="322" y1="32.75" x2="336.3" y2="32.75" stroke="#0000ff" stroke-width="1.2"/>
<text x="340.8" y="36.35" font-size="12.85" fill="#000">B mesons</text>
<line x1="322" y1="48.75" x2="336.3" y2="48.75" stroke="#007400" stroke-width="1.2"/>
<text x="340.8" y="52.35" font-size="12.85" fill="#000">W bosons</text>
</svg>
</body></html>
